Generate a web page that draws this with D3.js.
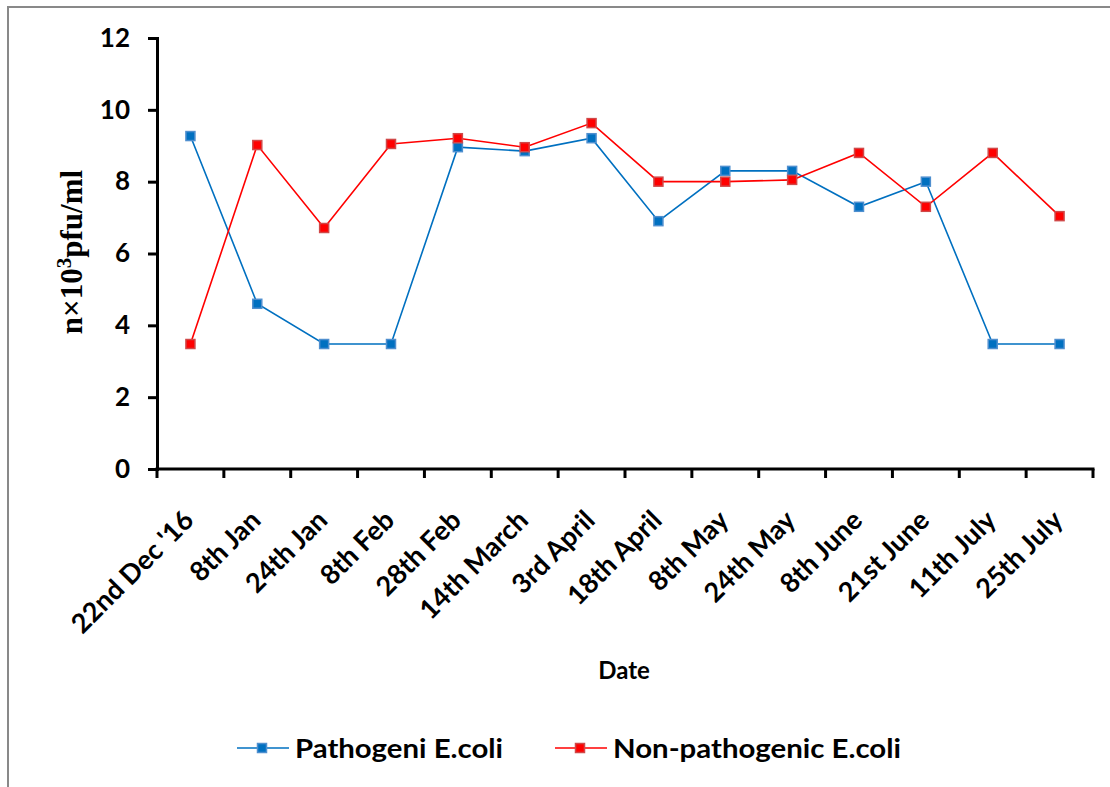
<!DOCTYPE html>
<html>
<head>
<meta charset="utf-8">
<script src="https://cdnjs.cloudflare.com/ajax/libs/d3/7.8.5/d3.min.js"></script>
<style>
  html, body { margin: 0; padding: 0; background: #fff; }
  svg { display: block; }
</style>
</head>
<body>
<svg id="chart" width="1110" height="787"></svg>
<script>
// Sampling dates along the x axis
const dates = ["22nd Dec '16", "8th Jan", "24th Jan", "8th Feb", "28th Feb", "14th March",
  "3rd April", "18th April", "8th May", "24th May", "8th June", "21st June", "11th July", "25th July"];

// Phage counts (n×10³ pfu/ml)
const pathogenic = [9.27, 4.6, 3.48, 3.48, 8.96, 8.85, 9.21, 6.9, 8.3, 8.3, 7.3, 8.0, 3.48, 3.48];
const nonPathogenic = [3.48, 9.02, 6.71, 9.05, 9.21, 8.96, 9.63, 8.0, 8.0, 8.05, 8.8, 7.3, 8.8, 7.04];

const yTicks = [0, 2, 4, 6, 8, 10, 12];

const seriesNames = ["Pathogeni E.coli", "Non-pathogenic E.coli"];
const seriesLine = ["#0070C0", "#FF0000"];
const seriesFill = ["#0070C0", "#FF0000"];
const seriesEdge = ["#4F8FCF", "#D04848"];

const svg = d3.select("#chart");
const sans = "Lato, 'Open Sans', sans-serif";

// outer frame
svg.append("rect")
  .attr("x", 8).attr("y", 7).attr("width", 1110).attr("height", 800)
  .attr("fill", "none").attr("stroke", "#898989").attr("stroke-width", 2);

const plotL = 157, plotR = 1093, plotT = 38, plotB = 469;

const x = d3.scaleBand().domain(dates).range([plotL, plotR]);
const y = d3.scaleLinear().domain([0, 12]).range([plotB, plotT]);

// y axis
const yAxis = svg.append("g")
  .attr("transform", `translate(${plotL},0)`)
  .call(d3.axisLeft(y).tickValues(yTicks).tickSize(9).tickPadding(18).tickFormat(d3.format("d")));
yAxis.select(".domain").attr("stroke", "#000").attr("stroke-width", 3);
yAxis.selectAll(".tick line").attr("stroke", "#000").attr("stroke-width", 3);
yAxis.selectAll(".tick text")
  .attr("font-family", sans).attr("font-weight", 700).attr("font-size", 26).attr("fill", "#000");

// x axis with ticks on the category boundaries
const xAxisG = svg.append("g").attr("transform", `translate(0,${plotB})`);
xAxisG.append("line")
  .attr("x1", plotL - 1.5).attr("x2", plotR + 1.5)
  .attr("stroke", "#000").attr("stroke-width", 3);
const bounds = dates.map(d => x(d)).concat([plotR]);
xAxisG.selectAll("line.tk").data(bounds).join("line")
  .attr("class", "tk")
  .attr("x1", d => d).attr("x2", d => d)
  .attr("y1", 0).attr("y2", 9)
  .attr("stroke", "#000").attr("stroke-width", 3);
xAxisG.selectAll("text.lbl").data(dates).join("text")
  .attr("class", "lbl")
  .attr("transform", d => `translate(${x(d) + x.bandwidth() / 2 + 5},${53}) rotate(-45)`)
  .attr("text-anchor", "end")
  .attr("font-family", sans).attr("font-weight", 700).attr("font-size", 27)
  .attr("fill", "#000")
  .text(d => d);

// axis titles
svg.append("text")
  .attr("x", 624).attr("y", 679)
  .attr("text-anchor", "middle")
  .attr("font-family", sans).attr("font-weight", 700).attr("font-size", 24)
  .text("Date");

const yTitle = svg.append("text")
  .attr("transform", "translate(82,252) rotate(-90)")
  .attr("text-anchor", "middle")
  .attr("font-family", "'Liberation Serif', 'DejaVu Serif', serif")
  .attr("font-weight", 700).attr("font-size", 31).attr("fill", "#000");
yTitle.append("tspan").text("n×10");
yTitle.append("tspan").attr("dy", -11).attr("font-size", 21).text("3");
yTitle.append("tspan").attr("dy", 11).text("pfu/ml");

// series lines and markers
const line = d3.line()
  .x((d, i) => x(dates[i]) + x.bandwidth() / 2)
  .y(d => y(d));

[pathogenic, nonPathogenic].forEach((vals, s) => {
  svg.append("path")
    .datum(vals)
    .attr("d", line)
    .attr("fill", "none")
    .attr("stroke", seriesLine[s])
    .attr("stroke-width", 1.6);
  svg.append("g").selectAll("rect").data(vals).join("rect")
    .attr("x", (d, i) => x(dates[i]) + x.bandwidth() / 2 - 4.5)
    .attr("y", d => y(d) - 4.5)
    .attr("width", 9).attr("height", 9)
    .attr("fill", seriesFill[s])
    .attr("stroke", seriesEdge[s]).attr("stroke-width", 1.5);
});

// legend
const legendItems = [
  { name: seriesNames[0], x0: 237, s: 0, w: 208 },
  { name: seriesNames[1], x0: 555, s: 1, w: 288 }
];
const ly = 748;
legendItems.forEach(it => {
  const g = svg.append("g");
  g.append("line")
    .attr("x1", it.x0).attr("x2", it.x0 + 52)
    .attr("y1", ly).attr("y2", ly)
    .attr("stroke", seriesLine[it.s]).attr("stroke-width", 1.6);
  g.append("rect")
    .attr("x", it.x0 + 25 - 4.5).attr("y", ly - 4.5)
    .attr("width", 9).attr("height", 9)
    .attr("fill", seriesFill[it.s])
    .attr("stroke", seriesEdge[it.s]).attr("stroke-width", 1.5);
  g.append("text")
    .attr("x", it.x0 + 58).attr("y", ly)
    .attr("dy", "0.36em")
    .attr("font-family", sans).attr("font-weight", 700).attr("font-size", 26.5)
    .attr("textLength", it.w).attr("lengthAdjust", "spacingAndGlyphs")
    .attr("fill", "#000")
    .text(it.name);
});
</script>
</body>
</html>
